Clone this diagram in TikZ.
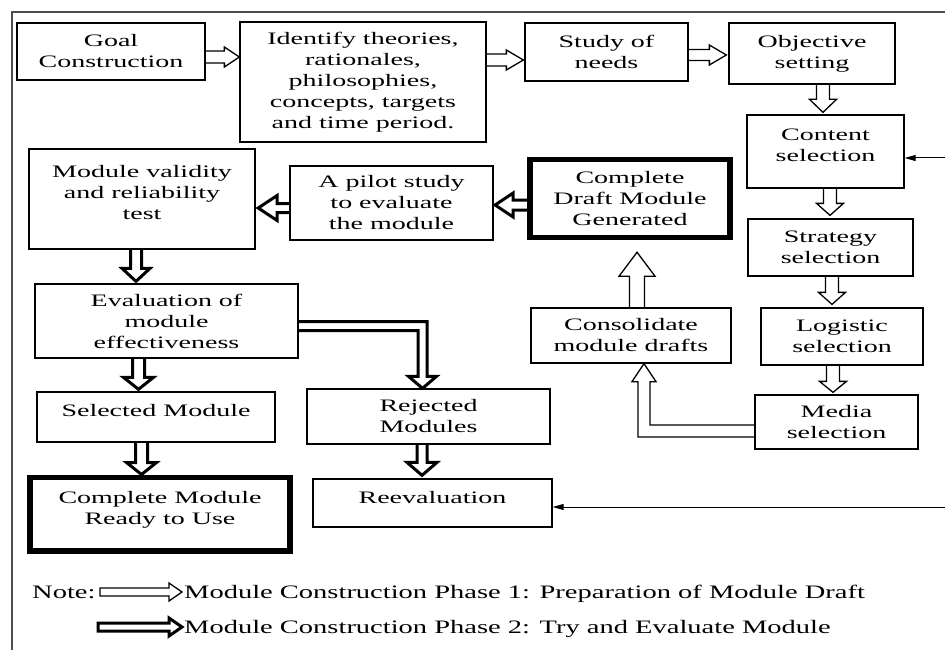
\documentclass[tikz,border=0pt]{standalone}
\usepackage{fontspec}
\setmainfont{Liberation Serif}[FakeStretch=1.6]
\newfontfamily\legfont{Liberation Serif}[FakeStretch=1.5]
\usetikzlibrary{calc,arrows.meta}
\pgfdeclarelayer{bg}
\pgfsetlayers{bg,main}
% hollow block arrow: #1 style, #2 from, #3 to, #4 shaft half width, #5 head half width, #6 head length
\newcommand\blockarrow[6]{%
  \coordinate (ba) at (#2);
  \coordinate (bb) at (#3);
  \coordinate (bc) at ($(bb)!#6pt!(ba)$);
  \draw[#1] ($(ba)!#4pt!90:(bb)$) -- ($(bc)!#4pt!90:(bb)$) -- ($(bc)!#5pt!90:(bb)$) -- (bb)
    -- ($(bc)!#5pt!-90:(bb)$) -- ($(bc)!#4pt!-90:(bb)$) -- ($(ba)!#4pt!-90:(bb)$) -- cycle;
}
\newcommand\upt[2]{\raisebox{#1}[\height][\depth]{\begin{tabular}{@{}c@{}}#2\end{tabular}}}
\begin{document}
\begin{tikzpicture}[x=1pt,y=-1pt,
  box/.style={draw, line width=1.3pt, fill=white, inner sep=0pt, align=center,
    font=\fontsize{17.5}{21}\selectfont},
  tbox/.style={box, line width=5.5pt},
  sz/.style 2 args={minimum width=#1pt, minimum height=#2pt},
  p1/.style={draw, fill=white, line width=1.3pt, line join=miter},
  p2/.style={draw, fill=white, line width=3pt, line join=miter},
  ln/.style={line width=1pt, -{Triangle[length=11pt,width=6pt]}},
  leg/.style={inner sep=0pt, font=\legfont\fontsize{19}{21}\selectfont}]
\useasboundingbox (0,0) rectangle (945,650);
\draw[black!70, line width=1.2pt] (12,650) -- (12,12) -- (945,12);

% boxes
\node[box, sz={188}{57}] (goal) at (111,51.5) {Goal\\Construction};
\node[box, sz={246}{120}] (ident) at (363,82) {Identify theories,\\rationales,\\philosophies,\\concepts, targets\\and time period.};
\node[box, sz={163}{58}] (study) at (606.5,52) {Study of\\needs};
\node[box, sz={166}{61}] (obj) at (812,53.5) {Objective\\setting};
\node[box, sz={157}{73}] (content) at (825.5,151.5) {\upt{5pt}{Content\\selection}};
\node[box, sz={165}{57}] (strat) at (830.5,247.5) {Strategy\\selection};
\node[box, sz={162}{57}] (logi) at (842,336.5) {Logistic\\selection};
\node[box, sz={163}{54}] (media) at (836.5,422) {Media\\selection};
\node[box, sz={200}{55}] (cons) at (631,335.5) {Consolidate\\module drafts};
\node[tbox, sz={200}{78}] (draft) at (630,198.5) {Complete\\Draft Module\\Generated};
\node[box, sz={203}{74}] (pilot) at (391.5,203) {A pilot study\\to evaluate\\the module};
\node[box, sz={226}{100}] (valid) at (142,199) {\upt{5pt}{Module validity\\and reliability\\test}};
\node[box, sz={263}{74}] (evalm) at (166.5,321) {Evaluation of\\module\\effectiveness};
\node[box, sz={238}{50}] (sel) at (156,417) {\upt{5pt}{Selected Module}};
\node[tbox, sz={260}{73.5}] (ready) at (160,514) {\upt{4pt}{Complete Module\\Ready to Use}};
\node[box, sz={243}{55}] (rej) at (428.5,416.5) {Rejected\\Modules};
\node[box, sz={239}{48}] (reev) at (432.5,503) {\upt{4pt}{Reevaluation}};

% thin incoming arrows
\coordinate (r1) at (945,158);
\coordinate (r2) at (945,507);
\draw[ln] (r1) -- (content.east |- r1);
\draw[ln] (r2) -- (reev.east |- r2);

% legend
\node[leg, anchor=base west] (note) at (32,598) {Note:};
\node[leg, anchor=base west] (leg1) at (184,598) {Module Construction Phase 1: Preparation of Module Draft};
\node[leg, anchor=base west] (leg2) at (184,633) {Module Construction Phase 2: Try and Evaluate Module};
\coordinate (l1a) at (100,592);
\coordinate (l2a) at (98,627);

\begin{pgfonlayer}{bg}
% phase 1 arrows
\blockarrow{p1}{$(goal.east)+(-2,5.5)$}{$(ident.west)+(0,-25)$}{6}{10}{15}
\blockarrow{p1}{$(ident.east)+(-2,-22)$}{$(study.west)+(-1,8)$}{6}{10}{17}
\blockarrow{p1}{$(study.east)+(-2,3)$}{$(obj.west)+(-2,1.5)$}{5.5}{10}{17}
\blockarrow{p1}{$(obj.south)+(11,-2)$}{$(content.north)+(-2.5,-2)$}{6.5}{13.5}{13}
\blockarrow{p1}{$(content.south)+(4.5,-2)$}{$(strat.north)+(-0.5,-3)$}{6.5}{13.5}{12}
\blockarrow{p1}{$(strat.south)+(1.5,-2)$}{$(logi.north)+(-10,-3)$}{6.5}{13.5}{12}
\blockarrow{p1}{$(logi.south)+(-9,-2)$}{$(media.north)+(-3.5,-2)$}{6.5}{13.5}{11}
\blockarrow{p1}{$(cons.north)+(6,2)$}{$(draft.south)+(7,12)$}{7.5}{18}{24}
% media -> consolidate elbow
\coordinate (e1s) at ($(media.west)+(3,9)$);
\coordinate (e1t) at ($(cons.south)+(13,0)$);
\coordinate (e1c) at (e1t |- e1s);
\draw[p1] ($(e1s)+(0,-6)$) -- ($(e1c)+(6,-6)$) -- ($(e1t)+(6,18)$) -- ($(e1t)+(12,18)$) -- (e1t)
  -- ($(e1t)+(-12,18)$) -- ($(e1t)+(-6,18)$) -- ($(e1c)+(-6,6)$) -- ($(e1s)+(0,6)$) -- cycle;

% phase 2 arrows
\blockarrow{p2}{$(draft.west)+(4,6.5)$}{$(pilot.east)+(1.5,2)$}{5}{12}{18}
\blockarrow{p2}{$(pilot.west)+(2,5)$}{$(valid.east)+(2.5,9)$}{4.5}{12.5}{19}
\blockarrow{p2}{$(valid.south)+(-6,-2)$}{$(evalm.north)+(-30.5,-2)$}{5.5}{14}{13}
\blockarrow{p2}{$(evalm.south)+(-28,-2)$}{$(sel.north)+(-17.5,-2)$}{6}{15}{12}
\blockarrow{p2}{$(sel.south)+(-14.5,-2)$}{$(ready.north)+(-18.5,0)$}{6}{15}{12}
\blockarrow{p2}{$(rej.south)+(-6.5,-2)$}{$(reev.north)+(-10.5,-3)$}{5}{15}{13}
% evaluation -> rejected elbow
\coordinate (e2s) at ($(evalm.east)+(-2,5)$);
\coordinate (e2t) at ($(rej.north)+(-6,0)$);
\coordinate (e2c) at (e2t |- e2s);
\draw[p2] ($(e2s)+(0,-4.5)$) -- ($(e2c)+(4.5,-4.5)$) -- ($(e2t)+(4.5,-12)$) -- ($(e2t)+(14,-12)$) -- (e2t)
  -- ($(e2t)+(-14,-12)$) -- ($(e2t)+(-4.5,-12)$) -- ($(e2c)+(-4.5,4.5)$) -- ($(e2s)+(0,4.5)$) -- cycle;

% legend arrows
\blockarrow{p1}{l1a}{$(l1a -| leg1.west)+(-2,0)$}{4}{9}{13}
\blockarrow{p2}{l2a}{$(l2a -| leg2.west)+(-2,0)$}{4}{9}{13}
\end{pgfonlayer}
\end{tikzpicture}
\end{document}
